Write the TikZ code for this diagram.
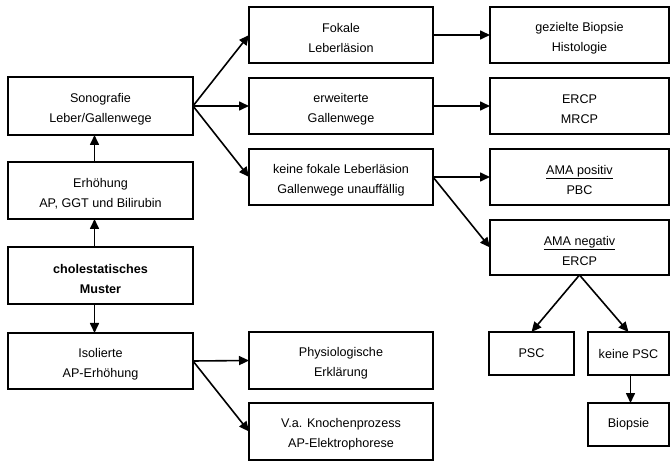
\documentclass[tikz,border=0pt]{standalone}
\usepackage{fontspec}
\setmainfont{Liberation Sans}
\usetikzlibrary{arrows.meta}
\begin{document}
\begin{tikzpicture}[x=1pt,y=-1pt,
  box/.style={draw, line width=1.5pt, inner sep=0pt, outer sep=0pt, align=center,
    font=\fontsize{12.6}{20}\selectfont},
  lab/.style={align=center, inner sep=0pt, yshift=-3pt, font=\fontsize{12.6}{20}\selectfont},
  arr/.style={line width=1.6pt, -{Triangle[length=10pt,width=9pt]}}]
\useasboundingbox (0,0) rectangle (670,465);
% left column
\node[box, minimum width=185pt, minimum height=58pt, label={[lab]center:{Sonografie\\Leber/Gallenwege}}] (sono) at (100.5,106) {};
\node[box, minimum width=185pt, minimum height=57pt, label={[lab]center:{Erhöhung\\AP, GGT und Bilirubin}}] (erh) at (100.5,190.5) {};
\node[box, minimum width=185pt, minimum height=57pt, label={[lab]center:{\bfseries cholestatisches\\\bfseries Muster}}] (chol) at (100.5,275.5) {};
\node[box, minimum width=185pt, minimum height=56pt, label={[lab]center:{Isolierte\\AP-Erhöhung}}] (iso) at (100.5,361) {};
% middle column
\node[box, minimum width=184pt, minimum height=56pt, label={[lab]center:{Fokale\\Leberläsion}}] (fok) at (341,35) {};
\node[box, minimum width=184pt, minimum height=56pt, label={[lab]center:{erweiterte\\Gallenwege}}] (erw) at (341,106) {};
\node[box, minimum width=184pt, minimum height=56pt, label={[lab]center:{keine fokale Leberläsion\\Gallenwege unauffällig}}] (kfl) at (341,177) {};
\node[box, minimum width=184pt, minimum height=57pt, label={[lab]center:{Physiologische\\Erklärung}}] (phy) at (341,360.5) {};
\node[box, minimum width=184pt, minimum height=57pt, label={[lab]center:{V.a. Knochenprozess\\AP-Elektrophorese}}] (kno) at (341,431.5) {};
% right column
\node[box, minimum width=179pt, minimum height=56pt, label={[lab]center:{gezielte Biopsie\\Histologie}}] (biop) at (579.5,35) {};
\node[box, minimum width=179pt, minimum height=56pt, label={[lab]center:{ERCP\\MRCP}}] (ercp) at (579.5,106) {};
\node[box, minimum width=179pt, minimum height=56pt, label={[lab]center:{\underline{AMA positiv}\\PBC}}] (amap) at (579.5,177) {};
\node[box, minimum width=179pt, minimum height=55pt, label={[lab]center:{\underline{AMA negativ}\\ERCP}}] (aman) at (579.5,247.5) {};
\node[box, minimum width=85pt, minimum height=43pt] (psc) at (531.5,353.5) {PSC};
\node[box, minimum width=81pt, minimum height=43pt] (kpsc) at (628.5,353.5) {keine PSC};
\node[box, minimum width=81pt, minimum height=43pt] (bio2) at (628.5,424.5) {Biopsie};
% arrows
\draw[arr] ([xshift=-6pt]chol.north) -- ([xshift=-6pt]erh.south);
\draw[arr] ([xshift=-6pt]erh.north) -- ([xshift=-6pt]sono.south);
\draw[arr] ([xshift=-6pt]chol.south) -- ([xshift=-6pt]iso.north);
\draw[arr] (sono.east) -- (fok.west);
\draw[arr] (sono.east) -- (erw.west);
\draw[arr] (sono.east) -- (kfl.west);
\draw[arr] (fok) -- (biop);
\draw[arr] (erw) -- (ercp);
\draw[arr] (kfl.east) -- (amap.west);
\draw[arr] (kfl.east) -- (aman.west);
\draw[arr] (aman.south) -- (psc.north);
\draw[arr] (aman.south) -- (kpsc.north);
\draw[arr] ([xshift=2pt]kpsc.south) -- ([xshift=2pt]bio2.north);
\draw[arr] (iso.east) -- (phy.west);
\draw[arr] (iso.east) -- (kno.west);
\end{tikzpicture}
\end{document}
